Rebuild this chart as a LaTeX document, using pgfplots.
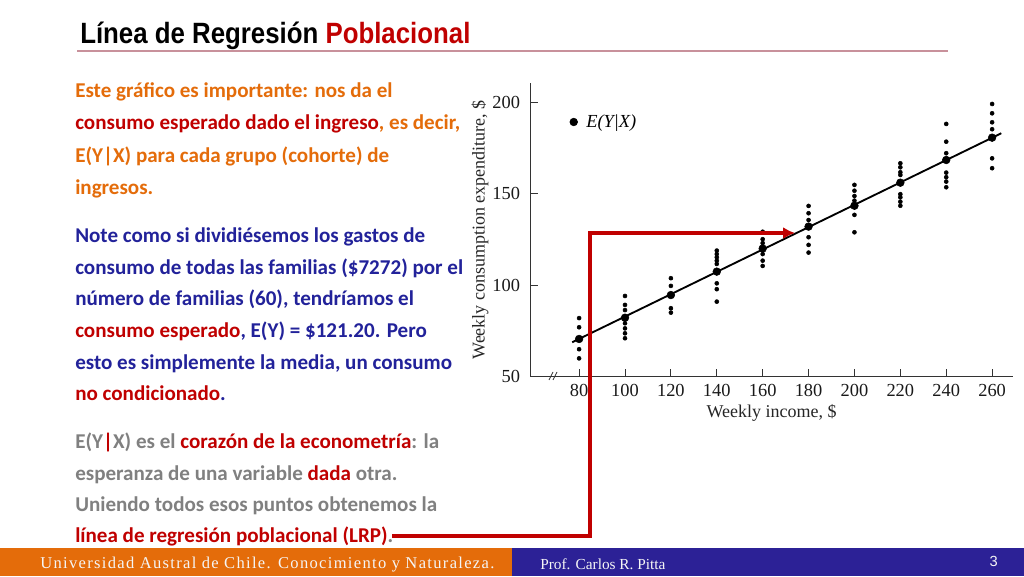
\documentclass[border=0pt]{standalone}
\usepackage{pgfplots}
\pgfplotsset{compat=1.18}
\usepackage{fontspec}
\usetikzlibrary{arrows.meta}
\setmainfont{Liberation Serif}
\newfontfamily\bodyfont{Carlito}
\newfontfamily\titlefont[FakeStretch=0.88]{Liberation Sans}
\newfontfamily\footfont[LetterSpace=8]{Liberation Serif}
\newfontfamily\footsans{Liberation Sans}

\definecolor{orng}{HTML}{E46C0A}
\definecolor{dred}{HTML}{C00000}
\definecolor{dblue}{HTML}{22229A}
\definecolor{gry}{HTML}{808080}
\definecolor{footblue}{HTML}{2C2196}
\definecolor{rulecol}{HTML}{C8919B}

% one line of the slide text, baseline at pixel row #1
\newcommand\tl[2]{\node[anchor=base west, inner sep=0pt,
  font=\bodyfont\bfseries\fontsize{15.8}{18}\selectfont] at (75,#1) {#2};}

\begin{document}
\begin{tikzpicture}
\fill[white] (0,0) rectangle (768pt,432pt);
\useasboundingbox (0,0) rectangle (768pt,432pt);

\begin{axis}[
  at={(397.5pt,149.5pt)}, anchor=south west,
  scale only axis, width=362.25pt, height=220.3pt,
  xmin=58.6, xmax=269.1, ymin=50, ymax=210.5,
  axis lines*=left,
  axis line style={-, black!80, line width=0.6pt},
  xtick={80,100,...,260}, ytick={50,100,150,200},
  tick align=inside, major tick length=6pt,
  tick style={black!80, line width=0.6pt},
  /pgf/number format/assume math mode=true,
  tick label style={font=\fontsize{13.8}{16}\selectfont, text=black!90},
  yticklabel style={xshift=-4pt},
  xticklabel style={yshift=-2pt},
  xlabel={Weekly income, \$},
  ylabel={Weekly consumption expenditure, \$},
  every axis x label/.style={at={(axis description cs:0.5,-0.1226)}, anchor=center,
    font=\fontsize{13.5}{16}\selectfont, text=black!85},
  every axis y label/.style={at={(axis description cs:-0.1035,0.5)}, anchor=center, rotate=90,
    font=\fontsize{13.5}{16}\selectfont, text=black!85},
  legend style={at={(0.082,0.867)}, anchor=west, draw=none, fill=none, inner sep=0pt,
    font=\fontsize{13.8}{16}\selectfont, cells={anchor=west},
    /tikz/every odd column/.append style={column sep=4.5pt}},
  legend image code/.code={\draw[#1] plot coordinates {(0pt,0pt)};},
  clip=false,
]
\addplot[only marks, mark=*, mark size=1.5pt, black, forget plot] table {
x y
80 60
80 65
80 77
80 82
100 71
100 73.7
100 76.4
100 79.2
100 86.4
100 89.2
100 94.1
120 85
120 87.4
120 99.6
120 103.8
140 91
140 97.8
140 101
140 111.6
140 113.4
140 115.2
140 117
140 118.9
160 110.5
160 113.4
160 117
160 123
160 125.1
160 129.2
180 117.8
180 122
180 126.2
180 135.6
180 139.3
180 143.3
200 128.9
200 138.4
200 146.2
200 148.7
200 151.6
200 154.8
220 143.4
220 145.6
220 148
220 149.7
220 160.2
220 161.7
220 164.4
220 166.6
240 153.5
240 156.6
240 159
240 161.5
240 172.1
240 178.4
240 188.1
260 163.9
260 169.3
260 185.2
260 189
260 193.9
260 199
};
\addplot[black, line width=1.4pt, forget plot] coordinates {(77,68.8) (264,183)};
\addplot[only marks, mark=*, mark size=2.9pt, black] table {
x y
80 70.6
100 82.2
120 94.6
140 107.4
160 120
180 132
200 143.4
220 156
240 168.4
260 180.6
};
\addlegendentry{\textit{E(Y|X)}}
\end{axis}

\begin{scope}[shift={(0pt,432pt)}, x=0.75pt, y=-0.75pt]
  % title
  \node[anchor=base west, inner sep=0pt] at (80,44)
    {\titlefont\bfseries\fontsize{22}{25}\selectfont Línea de Regresión \textcolor{dred}{Poblacional}};
  \draw[rulecol, line width=1.5pt] (77,51) -- (948,51);

  % slide text
  \tl{98}{\color{orng}Este gráfico es importante: nos da el}
  \tl{130}{\textcolor{dred}{consumo esperado dado el ingreso}\textcolor{orng}{, es decir,}}
  \tl{162}{\color{orng}E(Y|X) para cada grupo (cohorte) de}
  \tl{194}{\color{orng}ingresos.}
  \tl{242}{\color{dblue}Note como si dividiésemos los gastos de}
  \tl{274}{\color{dblue}consumo de todas las familias (\$7272) por el}
  \tl{305}{\color{dblue}número de familias (60), tendríamos el}
  \tl{337}{\textcolor{dred}{consumo esperado}\textcolor{dblue}{, E(Y) = \$121.20. Pero}}
  \tl{369}{\color{dblue}esto es simplemente la media, un consumo}
  \tl{400}{\textcolor{dred}{no condicionado}\textcolor{dblue}{.}}
  \tl{448}{\color{gry}E(Y\textcolor{dred}{|}X) es el \textcolor{dred}{corazón de la econometría}: la}
  \tl{480}{\color{gry}esperanza de una variable \textcolor{dred}{dada} otra.}
  \tl{511}{\color{gry}Uniendo todos esos puntos obtenemos la}
  \tl{542}{\textcolor{dred}{línea de regresión poblacional (LRP)}\textcolor{gry}{.}}

  % axis break mark
  \draw[black!80, line width=0.6pt] (549,380) -- (553,372) (553,380) -- (557,372);

  % red arrow
  \draw[dred, line width=3pt, -{Latex[length=9pt, width=9pt]}]
    (392,536) -- (590,536) -- (590,233) -- (795,233);

  % footer
  \fill[orng] (0,548) rectangle (512,576);
  \fill[footblue] (512,548) rectangle (1024,576);
  \node[anchor=base west, inner sep=0pt, text=white!92!gray] at (40,568)
    {\footfont\fontsize{12.4}{14}\selectfont Universidad Austral de Chile. Conocimiento y Naturaleza.};
  \node[anchor=base west, inner sep=0pt, text=white!92!gray] at (540,569)
    {\fontsize{11.5}{13}\selectfont Prof. Carlos R. Pitta};
  \node[anchor=base east, inner sep=0pt, text=white!92!gray] at (998,566)
    {\footsans\fontsize{11}{13}\selectfont 3};
\end{scope}
\end{tikzpicture}
\end{document}
